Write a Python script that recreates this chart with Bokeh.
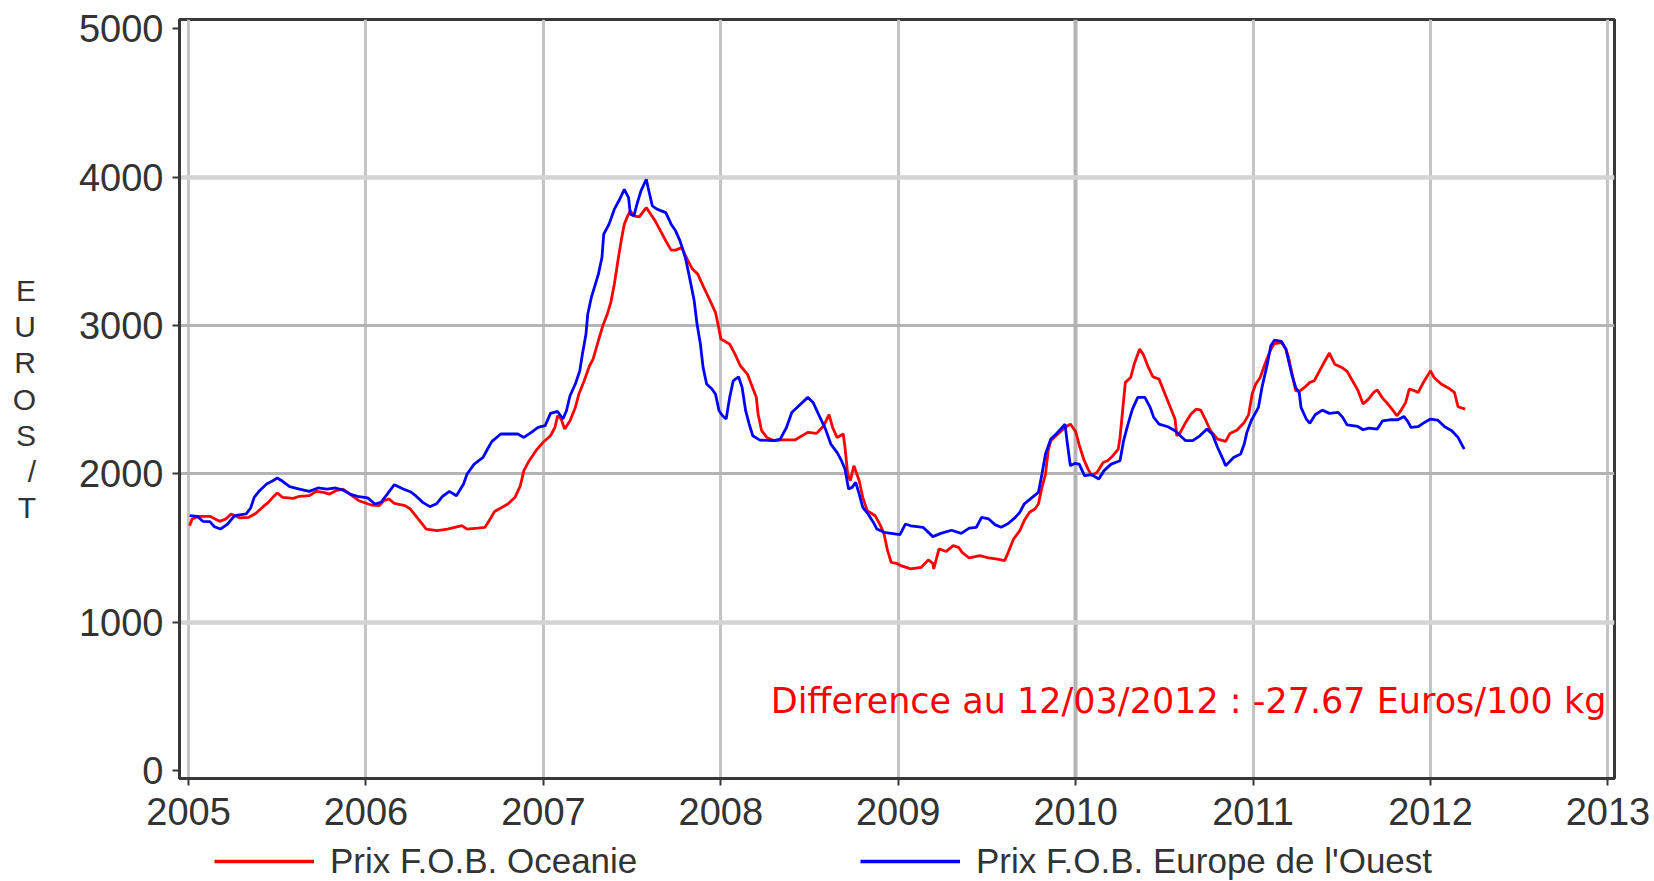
from bokeh.plotting import figure
from bokeh.layouts import column
from bokeh.models import Range1d, FixedTicker, Grid, Label, Legend, LegendItem
from bokeh.embed import file_html
from bokeh.resources import INLINE

# Prix F.O.B. Oceanie (EUROS/T), time in decimal years
oceanie_t = [2005.006, 2005.02, 2005.06, 2005.12, 2005.175, 2005.21, 2005.24, 2005.29, 2005.34, 2005.38,
             2005.42, 2005.45, 2005.475, 2005.50, 2005.53, 2005.59, 2005.625, 2005.68, 2005.72, 2005.76,
             2005.795, 2005.83, 2005.87, 2005.91, 2005.96, 2006.03, 2006.075, 2006.10, 2006.13, 2006.16,
             2006.22, 2006.25, 2006.28, 2006.31, 2006.34, 2006.40, 2006.46, 2006.54, 2006.57, 2006.63,
             2006.67, 2006.70, 2006.725, 2006.76, 2006.80, 2006.84, 2006.87, 2006.89, 2006.92, 2006.96,
             2007.00, 2007.04, 2007.065, 2007.08, 2007.10, 2007.12, 2007.15, 2007.18, 2007.20, 2007.23,
             2007.26, 2007.28, 2007.31, 2007.335, 2007.36, 2007.38, 2007.40, 2007.42, 2007.44, 2007.456,
             2007.475, 2007.49, 2007.51, 2007.54, 2007.58, 2007.605, 2007.63, 2007.66, 2007.69, 2007.72,
             2007.745, 2007.78, 2007.81, 2007.84, 2007.87, 2007.90, 2007.94, 2007.97, 2007.99, 2008.00,
             2008.05, 2008.08, 2008.11, 2008.15, 2008.175, 2008.20, 2008.21, 2008.23, 2008.26, 2008.30,
             2008.35, 2008.42, 2008.49, 2008.54, 2008.58, 2008.61, 2008.63, 2008.655, 2008.69, 2008.70,
             2008.715, 2008.73, 2008.75, 2008.78, 2008.80, 2008.825, 2008.87, 2008.90, 2008.92, 2008.94,
             2008.96, 2008.99, 2009.015, 2009.07, 2009.13, 2009.17, 2009.195, 2009.20, 2009.23, 2009.27,
             2009.31, 2009.34, 2009.36, 2009.40, 2009.46, 2009.51, 2009.56, 2009.60, 2009.62, 2009.65,
             2009.685, 2009.71, 2009.74, 2009.77, 2009.79, 2009.81, 2009.83, 2009.845, 2009.86, 2009.90,
             2009.94, 2009.97, 2010.00, 2010.02, 2010.045, 2010.07, 2010.09, 2010.12, 2010.155, 2010.18,
             2010.21, 2010.24, 2010.25, 2010.27, 2010.28, 2010.31, 2010.33, 2010.36, 2010.38, 2010.41,
             2010.435, 2010.47, 2010.50, 2010.53, 2010.56, 2010.57, 2010.59, 2010.62, 2010.65, 2010.68,
             2010.705, 2010.73, 2010.76, 2010.80, 2010.845, 2010.87, 2010.91, 2010.95, 2010.975, 2010.995,
             2011.015, 2011.04, 2011.07, 2011.10, 2011.12, 2011.16, 2011.185, 2011.20, 2011.22, 2011.24,
             2011.26, 2011.29, 2011.32, 2011.345, 2011.37, 2011.40, 2011.43, 2011.46, 2011.50, 2011.53,
             2011.56, 2011.59, 2011.62, 2011.65, 2011.68, 2011.70, 2011.73, 2011.76, 2011.79, 2011.81,
             2011.83, 2011.86, 2011.88, 2011.91, 2011.93, 2011.96, 2012.00, 2012.02, 2012.06, 2012.11,
             2012.135, 2012.155, 2012.196]
oceanie_v = [1651, 1696, 1714, 1714, 1680, 1696, 1730, 1703, 1707, 1734,
             1779, 1808, 1842, 1871, 1842, 1835, 1849, 1853, 1882, 1875,
             1864, 1887, 1898, 1864, 1819, 1790, 1786, 1819, 1831, 1801,
             1786, 1763, 1718, 1673, 1628, 1617, 1628, 1651, 1628, 1634,
             1639, 1696, 1747, 1770, 1797, 1842, 1920, 2022, 2089, 2160,
             2215, 2257, 2313, 2392, 2370, 2302, 2358, 2448, 2538, 2628,
             2729, 2774, 2898, 2999, 3077, 3156, 3280, 3437, 3583, 3684,
             3740, 3774, 3740, 3733, 3796, 3751, 3706, 3639, 3571, 3509,
             3509, 3526, 3448, 3381, 3347, 3268, 3167, 3088, 2976, 2909,
             2875, 2808, 2729, 2673, 2594, 2516, 2404, 2291, 2246, 2224,
             2230, 2230, 2280, 2273, 2325, 2399, 2313, 2246, 2269, 2178,
             1999, 1954, 2055, 1954, 1842, 1752, 1718, 1651, 1595, 1482,
             1404, 1397, 1381, 1359, 1370, 1420, 1397, 1359, 1494, 1477,
             1516, 1505, 1471, 1433, 1449, 1433, 1426, 1415, 1471, 1561,
             1617, 1685, 1741, 1763, 1797, 1909, 1999, 2156, 2224, 2269,
             2313, 2336, 2285, 2195, 2100, 2032, 1988, 2010, 2077, 2089,
             2123, 2167, 2246, 2493, 2617, 2650, 2740, 2841, 2808, 2718,
             2655, 2639, 2549, 2460, 2370, 2257, 2280, 2347, 2404, 2437,
             2430, 2370, 2291, 2235, 2219, 2273, 2296, 2347, 2400, 2540,
             2606, 2650, 2751, 2841, 2879, 2886, 2841, 2785, 2673, 2561,
             2556, 2583, 2617, 2628, 2684, 2751, 2815, 2740, 2718, 2691,
             2628, 2566, 2471, 2504, 2549, 2566, 2511, 2471, 2426, 2392,
             2421, 2482, 2572, 2561, 2549, 2617, 2695, 2650, 2606, 2572,
             2549, 2453, 2437]

# Prix F.O.B. Europe de l'Ouest (EUROS/T)
europe_t = [2005.006, 2005.05, 2005.08, 2005.12, 2005.146, 2005.18, 2005.22, 2005.26, 2005.325, 2005.35,
            2005.37, 2005.40, 2005.44, 2005.475, 2005.50, 2005.53, 2005.57, 2005.625, 2005.68, 2005.73,
            2005.78, 2005.83, 2005.87, 2005.91, 2005.96, 2006.01, 2006.05, 2006.085, 2006.12, 2006.16,
            2006.21, 2006.25, 2006.28, 2006.32, 2006.36, 2006.40, 2006.43, 2006.47, 2006.51, 2006.55,
            2006.57, 2006.61, 2006.66, 2006.69, 2006.71, 2006.76, 2006.856, 2006.89, 2006.93, 2006.97,
            2007.01, 2007.04, 2007.08, 2007.11, 2007.13, 2007.15, 2007.18, 2007.205, 2007.22, 2007.24,
            2007.25, 2007.27, 2007.29, 2007.31, 2007.33, 2007.34, 2007.37, 2007.40, 2007.43, 2007.456,
            2007.48, 2007.49, 2007.51, 2007.53, 2007.55, 2007.58, 2007.59, 2007.614, 2007.64, 2007.69,
            2007.72, 2007.745, 2007.77, 2007.80, 2007.82, 2007.85, 2007.866, 2007.885, 2007.90, 2007.92,
            2007.95, 2007.97, 2007.99, 2008.01, 2008.03, 2008.05, 2008.07, 2008.10, 2008.12, 2008.14,
            2008.16, 2008.18, 2008.22, 2008.30, 2008.335, 2008.37, 2008.40, 2008.44, 2008.49, 2008.52,
            2008.55, 2008.59, 2008.62, 2008.655, 2008.68, 2008.70, 2008.72, 2008.74, 2008.76, 2008.78,
            2008.80, 2008.83, 2008.86, 2008.88, 2008.92, 2008.96, 2009.01, 2009.04, 2009.07, 2009.14,
            2009.195, 2009.24, 2009.30, 2009.355, 2009.40, 2009.44, 2009.47, 2009.51, 2009.545, 2009.58,
            2009.62, 2009.66, 2009.685, 2009.71, 2009.75, 2009.79, 2009.81, 2009.83, 2009.86, 2009.89,
            2009.915, 2009.94, 2009.95, 2009.97, 2009.995, 2010.02, 2010.05, 2010.09, 2010.13, 2010.16,
            2010.20, 2010.25, 2010.27, 2010.295, 2010.32, 2010.35, 2010.39, 2010.42, 2010.44, 2010.47,
            2010.52, 2010.56, 2010.59, 2010.62, 2010.66, 2010.70, 2010.74, 2010.77, 2010.80, 2010.83,
            2010.845, 2010.89, 2010.93, 2010.95, 2010.965, 2010.99, 2011.015, 2011.03, 2011.05, 2011.08,
            2011.10, 2011.12, 2011.16, 2011.185, 2011.20, 2011.22, 2011.24, 2011.26, 2011.27, 2011.30,
            2011.32, 2011.35, 2011.39, 2011.43, 2011.48, 2011.505, 2011.53, 2011.59, 2011.62, 2011.655,
            2011.70, 2011.73, 2011.77, 2011.816, 2011.85, 2011.87, 2011.89, 2011.93, 2011.966, 2012.00,
            2012.04, 2012.08, 2012.12, 2012.155, 2012.19]
europe_v = [1718, 1714, 1680, 1678, 1644, 1628, 1662, 1718, 1730, 1770,
            1842, 1887, 1932, 1954, 1972, 1950, 1914, 1898, 1882, 1905,
            1898, 1905, 1891, 1864, 1846, 1838, 1797, 1808, 1864, 1927,
            1898, 1880, 1853, 1808, 1779, 1801, 1846, 1882, 1853, 1932,
            1999, 2066, 2111, 2178, 2219, 2269, 2269, 2246, 2278, 2313,
            2325, 2408, 2421, 2370, 2426, 2527, 2606, 2695, 2808, 2943,
            3077, 3189, 3268, 3347, 3459, 3616, 3684, 3785, 3852, 3919,
            3863, 3751, 3740, 3830, 3908, 3987, 3931, 3807, 3785, 3762,
            3684, 3639, 3571, 3459, 3347, 3167, 3010, 2875, 2718, 2606,
            2572, 2538, 2426, 2392, 2370, 2516, 2628, 2655, 2583, 2426,
            2336, 2257, 2228, 2224, 2235, 2313, 2414, 2460, 2516, 2482,
            2404, 2302, 2201, 2145, 2089, 2032, 1898, 1909, 1943, 1864,
            1774, 1730, 1673, 1628, 1606, 1599, 1590, 1662, 1650, 1640,
            1577, 1599, 1620, 1599, 1634, 1640, 1707, 1696, 1658, 1640,
            1665, 1707, 1741, 1797, 1837, 1875, 1999, 2134, 2235, 2269,
            2302, 2336, 2235, 2055, 2071, 2066, 1988, 1995, 1966, 2022,
            2066, 2089, 2224, 2336, 2437, 2516, 2516, 2448, 2381, 2336,
            2318, 2291, 2257, 2224, 2224, 2257, 2302, 2269, 2178, 2100,
            2055, 2111, 2134, 2201, 2280, 2360, 2415, 2448, 2583, 2740,
            2864, 2902, 2893, 2841, 2763, 2662, 2583, 2549, 2448, 2370,
            2341, 2399, 2430, 2408, 2415, 2381, 2330, 2320, 2298, 2309,
            2302, 2358, 2365, 2365, 2387, 2358, 2313, 2318, 2347, 2370,
            2363, 2318, 2291, 2246, 2167]

x_ticks = [2005, 2006, 2007, 2008, 2009, 2010, 2011, 2012, 2013]
y_ticks = [0, 1000, 2000, 3000, 4000, 5000]
series_names = ["Prix F.O.B. Oceanie", "Prix F.O.B. Europe de l'Ouest"]
series_colors = ["#ff0000", "#0000ff"]
y_label = "E\nU\nR\nO\nS\n/\nT"
note_text = "Difference au 12/03/2012 : -27.67 Euros/100 kg"

FONT = "Liberation Sans"
TXT = "#333333"

p = figure(width=1654, height=841, output_backend="svg", toolbar_location=None,
           x_range=Range1d(2004.949, 2013.037), y_range=Range1d(-54, 5064),
           min_border_left=179, min_border_right=40, min_border_top=19, min_border_bottom=63,
           background_fill_color="white", border_fill_color="white")

p.xgrid.grid_line_color = None
p.ygrid.grid_line_color = None
p.add_layout(Grid(dimension=0, ticker=FixedTicker(ticks=[t for t in x_ticks if t != 2010]),
                  grid_line_color="#c4c4c4", grid_line_width=3))
p.add_layout(Grid(dimension=0, ticker=FixedTicker(ticks=[2010]),
                  grid_line_color="#b4b4b4", grid_line_width=4))
p.add_layout(Grid(dimension=1, ticker=FixedTicker(ticks=[1000, 4000]),
                  grid_line_color="#d4d4d4", grid_line_width=4.5))
p.add_layout(Grid(dimension=1, ticker=FixedTicker(ticks=[2000, 3000]),
                  grid_line_color="#b4b4b4", grid_line_width=3))

p.outline_line_color = "#383838"
p.outline_line_width = 3

p.xaxis.ticker = FixedTicker(ticks=x_ticks)
p.yaxis.ticker = FixedTicker(ticks=y_ticks)
for ax in (p.xaxis, p.yaxis):
    ax.axis_line_color = "#383838"
    ax.axis_line_width = 3
    ax.major_tick_line_color = "#383838"
    ax.major_tick_line_width = 2
    ax.major_tick_in = 0
    ax.major_tick_out = 7
    ax.minor_tick_line_color = None
    ax.major_label_text_font = FONT
    ax.major_label_text_font_size = "38px"
    ax.major_label_text_color = TXT

p.xaxis.major_label_standoff = 12
p.yaxis.major_label_standoff = 9
p.yaxis.axis_label = y_label
p.yaxis.axis_label_orientation = "horizontal"
p.yaxis.axis_label_text_font = FONT
p.yaxis.axis_label_text_font_size = "30px"
p.yaxis.axis_label_text_font_style = "normal"
p.yaxis.axis_label_text_color = TXT
p.yaxis.axis_label_text_line_height = 1.095
p.yaxis.axis_label_standoff = 40

p.line(oceanie_t, oceanie_v, line_color=series_colors[0], line_width=2.8)
p.line(europe_t, europe_v, line_color=series_colors[1], line_width=2.8)

note = Label(x=1427, y=78, x_units="screen", y_units="screen", text=note_text,
             text_align="right", text_baseline="alphabetic", text_font="DejaVu Sans",
             text_font_size="35px", text_color="#ff0000")
p.add_layout(note)

# legend strip below the chart (its frame is aligned with the chart frame)
q = figure(width=1654, height=40, output_backend="svg", toolbar_location=None,
           x_range=Range1d(0, 1), y_range=Range1d(0, 1), min_border=0,
           background_fill_color="white", border_fill_color="white")
q.axis.visible = False
q.xgrid.visible = False
q.ygrid.visible = False
q.outline_line_color = None
nan = float("nan")
for name, color, xpos in zip(series_names, series_colors, [35, 681]):
    r = q.line(x=[nan], y=[nan], line_color=color, line_width=3.5)
    leg = Legend(items=[LegendItem(label=name, renderers=[r])], location=(xpos, 0),
                 glyph_width=100, glyph_height=20, label_standoff=16, padding=0, margin=0,
                 border_line_color=None, background_fill_alpha=0,
                 label_text_font=FONT, label_text_font_size="35px", label_text_color=TXT)
    q.add_layout(leg)

layout = column(p, q, spacing=0)
open("out.html", "w").write(file_html(layout, INLINE))
